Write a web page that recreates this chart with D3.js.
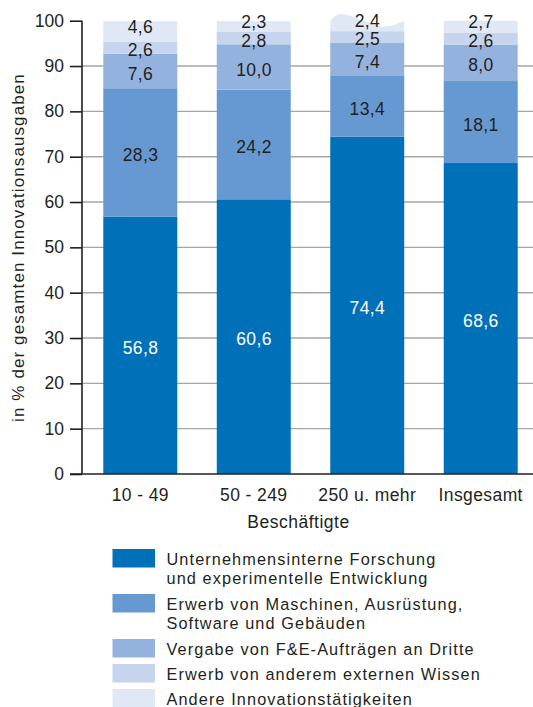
<!DOCTYPE html>
<html>
<head>
<meta charset="utf-8">
<script src="https://cdn.jsdelivr.net/npm/d3@7"></script>
<style>
  html, body { margin: 0; padding: 0; background: #fff; }
  svg { display: block; font-family: "Liberation Sans", Arial, Helvetica, sans-serif; }
</style>
</head>
<body>
<svg id="chart" width="533" height="707"></svg>
<script>
// Anteile der Innovationsausgaben nach Beschäftigtengrößenklassen (in %)
const categories = ["10 - 49", "50 - 249", "250 u. mehr", "Insgesamt"];
const seriesNames = [
  ["Unternehmensinterne Forschung", "und experimentelle Entwicklung"],
  ["Erwerb von Maschinen, Ausrüstung,", "Software und Gebäuden"],
  ["Vergabe von F&E-Aufträgen an Dritte"],
  ["Erwerb von anderem externen Wissen"],
  ["Andere Innovationstätigkeiten"]
];
const internFuE      = [56.8, 60.6, 74.4, 68.6];
const maschinen      = [28.3, 24.2, 13.4, 18.1];
const fueAuftraege   = [7.6, 10.0, 7.4, 8.0];
const externesWissen = [2.6, 2.8, 2.5, 2.6];
const andere         = [4.6, 2.3, 2.4, 2.7];
const yTicks = [0, 10, 20, 30, 40, 50, 60, 70, 80, 90, 100];
const xTitle = "Beschäftigte";
const yTitle = "in % der gesamten Innovationsausgaben";

const series = [internFuE, maschinen, fueAuftraege, externesWissen, andere];
const colors = ["#0070b9", "#6699d1", "#93b2dd", "#c6d4ee", "#e1e8f5"];
const labelColors = ["#ffffff", "#231f20", "#231f20", "#231f20", "#231f20"];
const ink = "#231f20";

const svg = d3.select("#chart");
const fmt = v => v.toFixed(1).replace(".", ",");

const y = d3.scaleLinear().domain([0, 100]).range([474, 20.7]);
const x = d3.scaleBand().domain(categories)
  .range([84, 537]).paddingInner(0.348).paddingOuter(0.17);

const axisX = 82;
const rightEdge = 533;

// Gitterlinien
svg.append("g").selectAll("line")
  .data(yTicks.filter(t => t > 0 && t < 100))
  .join("line")
  .attr("x1", axisX).attr("x2", rightEdge)
  .attr("y1", d => y(d)).attr("y2", d => y(d))
  .attr("stroke", "#a6a6a6").attr("stroke-width", 1.4);

// Gestapelte Segmente
const stacks = categories.map((c, i) => {
  let acc = 0;
  return series.map((s, k) => {
    const y0 = acc; acc += s[i];
    return { cat: c, k, v: s[i], y0, y1: acc };
  });
});

const bars = svg.append("g");
stacks.forEach(stack => {
  const total = stack[stack.length - 1].y1;
  stack.forEach(seg => {
    const x0 = x(seg.cat), w = x.bandwidth();
    const isTop = seg.k === series.length - 1;
    if (isTop && total > 100) {
      // Summe über 100 (Rundung): Oberkante gewellt darstellen
      const yt = y(total);
      const pts = [[0, 0.5], [0.14, -6.2], [0.42, -0.5], [0.72, 6.5], [1, 0.8]]
        .map(([fx, dy]) => [x0 + fx * w, yt + dy]);
      const wave = d3.line().curve(d3.curveMonotoneX)(pts);
      bars.append("path")
        .attr("d", `M${x0},${y(seg.y0)}L${x0},${yt + 0.5}` + wave.replace(/^M[^C]*?(?=C)/, "") + `L${x0 + w},${y(seg.y0)}Z`)
        .attr("fill", colors[seg.k]);
    } else {
      bars.append("rect")
        .attr("x", x0).attr("width", w)
        .attr("y", y(seg.y1)).attr("height", y(seg.y0) - y(seg.y1))
        .attr("fill", colors[seg.k]);
    }
  });
});

// Werte
const labels = svg.append("g")
  .attr("font-size", 17.5).attr("letter-spacing", 0.4).attr("text-anchor", "middle");
stacks.forEach(stack => {
  stack.forEach(seg => {
    const isTop = seg.k === series.length - 1;
    const mid = y((seg.y0 + seg.y1) / 2);
    labels.append("text")
      .attr("x", x(seg.cat) + x.bandwidth() / 2 + 0.2)
      .attr("y", mid + (isTop ? 1.3 : 8.6))
      .attr("fill", labelColors[seg.k])
      .text(fmt(seg.v));
  });
});

// Y-Achse
const yAxis = svg.append("g").attr("transform", `translate(${axisX},0)`)
  .call(d3.axisLeft(y).tickValues(yTicks).tickSize(12).tickPadding(6));
yAxis.select(".domain").attr("stroke", ink).attr("stroke-width", 1.6)
  .attr("d", `M0,${y(100)}V${y(0)}`);
yAxis.selectAll(".tick line").attr("stroke", ink).attr("stroke-width", 1.6);
yAxis.selectAll(".tick text").attr("fill", ink)
  .attr("font-size", 17.5).attr("font-family", "Liberation Sans, Arial, sans-serif");

// X-Achse
svg.append("line")
  .attr("x1", 70).attr("x2", rightEdge)
  .attr("y1", y(0)).attr("y2", y(0))
  .attr("stroke", ink).attr("stroke-width", 1.6);
const xAxis = svg.append("g").attr("transform", `translate(0,${y(0)})`)
  .call(d3.axisBottom(x).tickSize(0).tickPadding(14.5));
xAxis.select(".domain").remove();
xAxis.selectAll(".tick text").attr("fill", ink)
  .attr("font-size", 17.5).attr("letter-spacing", 0.4)
  .attr("font-family", "Liberation Sans, Arial, sans-serif");

// Achsentitel
svg.append("text")
  .attr("x", 298.5).attr("y", 528)
  .attr("text-anchor", "middle").attr("font-size", 17.5).attr("letter-spacing", 0.5)
  .attr("fill", ink)
  .text(xTitle);
svg.append("text")
  .attr("transform", "translate(24,247.5) rotate(-90)")
  .attr("text-anchor", "middle").attr("font-size", 17).attr("letter-spacing", 1.1)
  .attr("fill", ink)
  .text(yTitle);

// Legende
const legend = svg.append("g")
  .attr("font-size", 16.3).attr("letter-spacing", 1.1).attr("fill", ink);
let ly = 549;
seriesNames.forEach((lines, k) => {
  legend.append("rect")
    .attr("x", 112.5).attr("y", ly).attr("width", 42.5).attr("height", 18.5)
    .attr("fill", colors[k]);
  lines.forEach((t, j) => {
    legend.append("text")
      .attr("x", 166.5).attr("y", ly + 16.3 + j * 18.7)
      .text(t);
  });
  ly += lines.length > 1 ? 45 : 25;
});
</script>
</body>
</html>
